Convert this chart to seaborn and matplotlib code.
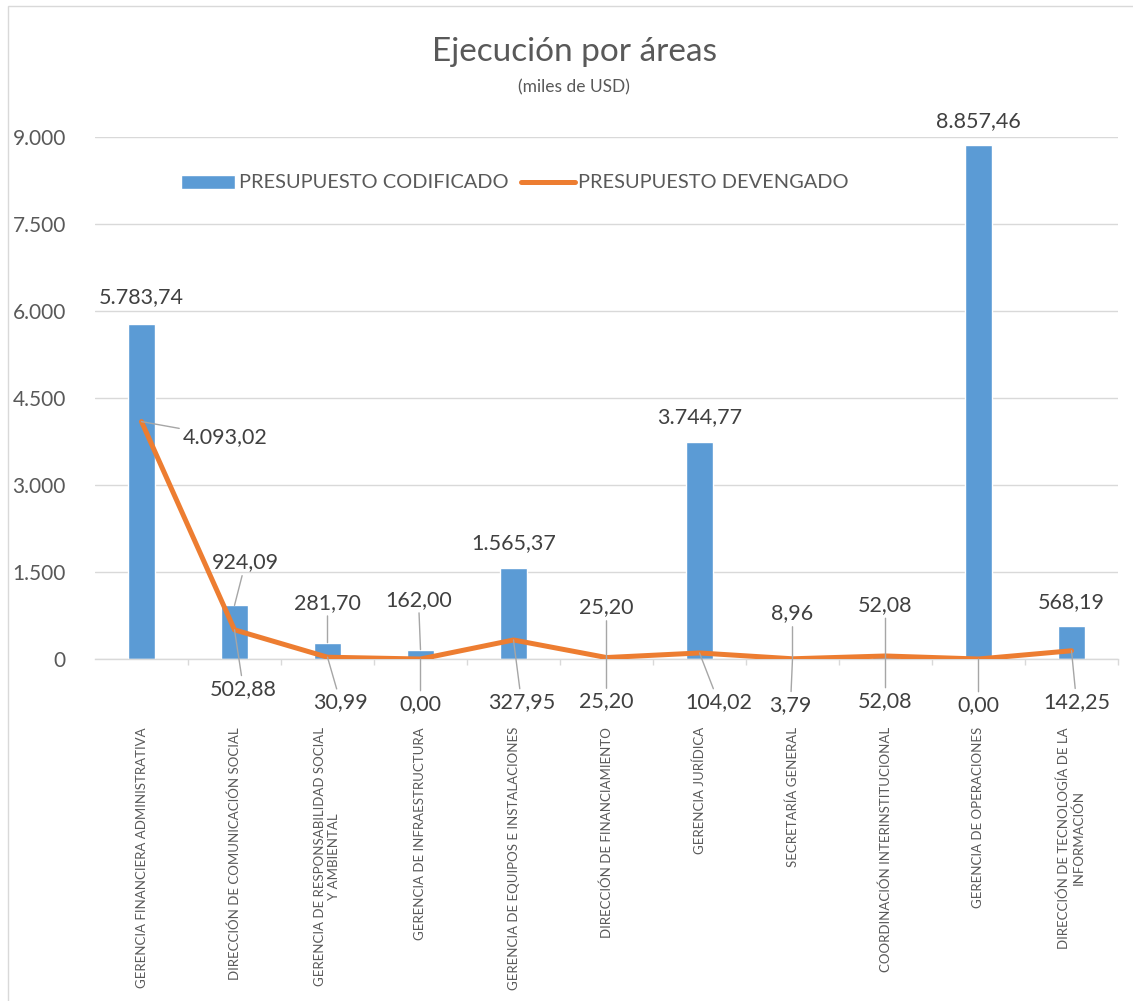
import numpy as np
import matplotlib
matplotlib.use("Agg")
import matplotlib.pyplot as plt
import matplotlib.patches as mpatches
import seaborn as sns

# data
areas = [
    "GERENCIA FINANCIERA ADMINISTRATIVA",
    "DIRECCIÓN DE COMUNICACIÓN SOCIAL",
    "GERENCIA DE RESPONSABILIDAD SOCIAL\nY AMBIENTAL",
    "GERENCIA DE INFRAESTRUCTURA",
    "GERENCIA DE EQUIPOS E INSTALACIONES",
    "DIRECCIÓN DE FINANCIAMIENTO",
    "GERENCIA JURÍDICA",
    "SECRETARÍA GENERAL",
    "COORDINACIÓN INTERINSTITUCIONAL",
    "GERENCIA DE OPERACIONES",
    "DIRECCIÓN DE TECNOLOGÍA DE LA\nINFORMACIÓN",
]
codificado = [5783.74, 924.09, 281.70, 162.00, 1565.37, 25.20, 3744.77, 8.96, 52.08, 8857.46, 568.19]
devengado = [4093.02, 502.88, 30.99, 0.00, 327.95, 25.20, 104.02, 3.79, 52.08, 0.00, 142.25]
y_ticks = [0, 1500, 3000, 4500, 6000, 7500, 9000]

# label offsets in pixels (dx, dy, leader line)
bar_offsets = [(0, 26, False), (11, 43, True), (0, 40, True), (-2, 50, True), (0, 25, False),
               (0, 50, True), (0, 25, False), (0, 45, True), (0, 51, True), (0, 24, False), (0, 24, False)]
line_offsets = [(91, -15, True), (9, -59, True), (13, -45, True), (0, -45, True), (8, -62, True),
                (0, -44, True), (19, -49, True), (-2, -46, True), (0, -45, True), (0, -46, True), (5, -51, True)]

BLUE = "#5B9BD5"
ORANGE = "#ED7D31"
GRID = "#D9D9D9"
TXT = "#595959"
LBL = "#404040"


def fmt(v, dec=2):
    s = f"{v:,.{dec}f}"
    return s.replace(",", "X").replace(".", ",").replace("X", ".")


sns.set_theme(style="white")
plt.rcParams["font.family"] = ["Lato", "DejaVu Sans"]

W, H = 1133, 1001
fig = plt.figure(figsize=(W / 100, H / 100), dpi=100)
ax = fig.add_axes([95 / W, 1 - 659 / H, (1118 - 95) / W, (659 - 137) / H])

sns.barplot(x=areas, y=codificado, color=BLUE, width=0.3, errorbar=None,
            label="PRESUPUESTO CODIFICADO", saturation=1, ax=ax, zorder=2)
sns.lineplot(x=np.arange(len(areas)), y=devengado, color=ORANGE, linewidth=3.6,
             label="PRESUPUESTO DEVENGADO", ax=ax, zorder=3,
             solid_joinstyle="round", solid_capstyle="round")

ax.set_xlim(-0.5, len(areas) - 0.5)
ax.set_ylim(0, 9000)
ax.set_yticks(y_ticks)
ax.set_yticklabels([fmt(t, 0) for t in y_ticks], fontsize=15, color=TXT)
ax.set_xticks(range(len(areas)))
ax.set_xticklabels(areas, rotation=90, fontsize=9.5, color=TXT, multialignment="center")
ax.set_xticks(np.arange(0.5, len(areas), 1), minor=True)
ax.tick_params(axis="x", which="major", length=0, pad=49)
ax.tick_params(axis="x", which="minor", length=4, width=1, color=GRID, bottom=True)
ax.tick_params(axis="y", length=0, pad=21)
ax.set_xlabel("")
ax.set_ylabel("")
ax.grid(axis="y", color=GRID, linewidth=1)
ax.set_axisbelow(True)
for side in ["top", "right", "left"]:
    ax.spines[side].set_visible(False)
ax.spines["bottom"].set_color(GRID)
ax.spines["bottom"].set_linewidth(1)

# data labels
for i, v in enumerate(codificado):
    dx, dy, lead = bar_offsets[i]
    ax.annotate(fmt(v), xy=(i, v), xytext=(dx * 0.72, dy * 0.72), textcoords="offset points",
                ha="center", va="center", fontsize=15.5, color=LBL, annotation_clip=False,
                arrowprops=dict(arrowstyle="-", color="#A6A6A6", lw=1, shrinkA=0, shrinkB=0) if lead else None)

for i, v in enumerate(devengado):
    dx, dy, lead = line_offsets[i]
    ha = "left" if dx > 50 else "center"
    ax.annotate(fmt(v), xy=(i, v), xytext=((dx - 50 if ha == "left" else dx) * 0.72, dy * 0.72),
                textcoords="offset points", ha=ha, va="center", fontsize=15.5, color=LBL,
                annotation_clip=False,
                arrowprops=dict(arrowstyle="-", color="#A6A6A6", lw=1, shrinkA=0, shrinkB=0) if lead else None)

handles, labels = ax.get_legend_handles_labels()
order = [labels.index("PRESUPUESTO CODIFICADO"), labels.index("PRESUPUESTO DEVENGADO")]
ax.legend([handles[k] for k in order], [labels[k] for k in order],
          loc="center", bbox_to_anchor=(515 / W, 1 - 183 / H), bbox_transform=fig.transFigure,
          ncol=2, frameon=False, fontsize=14.4, handlelength=2.7, handletextpad=0.2,
          columnspacing=0.6, handleheight=0.7, labelcolor=TXT)

fig.text(574 / W, 1 - 52 / H, "Ejecución por áreas", ha="center", va="center",
         fontsize=24, color=TXT)
fig.text(574 / W, 1 - 87 / H, "(miles de USD)", ha="center", va="center",
         fontsize=12.5, color=TXT)

# chart border
fig.patches.append(mpatches.Rectangle((8 / W, -0.05), 1.1, 1 - 6 / H + 0.05, transform=fig.transFigure,
                                      fill=False, edgecolor=GRID, linewidth=1))

fig.savefig("out.png", dpi=100)
